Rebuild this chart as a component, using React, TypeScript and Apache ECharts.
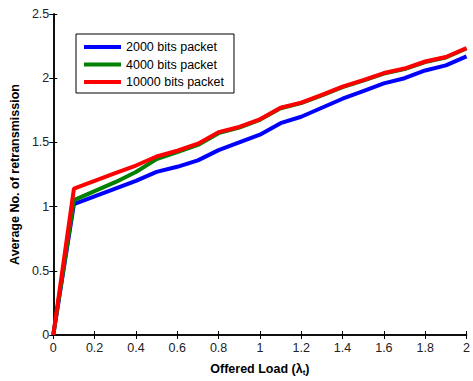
import React, { useEffect, useRef } from "react";
import * as echarts from "echarts";

const loads = [0, 0.1, 0.2, 0.3, 0.4, 0.5, 0.6, 0.7, 0.8, 0.9, 1.0, 1.1, 1.2, 1.3, 1.4, 1.5, 1.6, 1.7, 1.8, 1.9, 2.0];
const bits2000 = [0, 1.02, 1.08, 1.14, 1.2, 1.27, 1.31, 1.36, 1.44, 1.5, 1.56, 1.65, 1.7, 1.77, 1.84, 1.9, 1.96, 2.0, 2.06, 2.1, 2.17];
const bits4000 = [0, 1.05, 1.12, 1.19, 1.27, 1.37, 1.425, 1.48, 1.572, 1.616, 1.676, 1.766, 1.806, 1.866, 1.931, 1.981, 2.036, 2.071, 2.126, 2.161, 2.231];
const bits10000 = [0, 1.14, 1.2, 1.26, 1.32, 1.39, 1.435, 1.49, 1.58, 1.62, 1.68, 1.77, 1.81, 1.87, 1.935, 1.985, 2.04, 2.075, 2.13, 2.165, 2.235];
const seriesNames = ["2000 bits packet", "4000 bits packet", "10000 bits packet"];
const seriesColors = ["#0000ff", "#008000", "#ff0000"];
const xTicks = { min: 0, max: 2, interval: 0.2 };
const yTicks = { min: 0, max: 2.5, interval: 0.5 };

const FONT = "Liberation Sans, Arial, sans-serif";

export default function App() {
  const ref = useRef<HTMLDivElement>(null);
  useEffect(() => {
    if (!ref.current) return;
    document.body.style.margin = "0";
    const chart = echarts.init(ref.current, null, { renderer: "svg" });
    const datasets = [bits2000, bits4000, bits10000];
    const axisLine = { show: true, lineStyle: { color: "#000", width: 1.5 } };
    const tick = { show: true, inside: true, length: 4, lineStyle: { color: "#000", width: 1 } };
    const label = { color: "#222", fontSize: 12.5, fontFamily: FONT };
    chart.setOption({
      animation: false,
      backgroundColor: "#fff",
      grid: { left: 53, right: 2, top: 14, bottom: 38, containLabel: false },
      legend: {
        data: seriesNames,
        orient: "vertical",
        left: 76,
        top: 34,
        icon: "rect",
        itemWidth: 37,
        itemHeight: 4,
        itemGap: 3.5,
        padding: [6, 10, 4, 8],
        borderColor: "#000",
        borderWidth: 1,
        backgroundColor: "#fff",
        textStyle: { fontSize: 12.5, fontFamily: FONT, color: "#000", lineHeight: 14 },
      },
      xAxis: [
        {
          type: "value",
          min: xTicks.min,
          max: xTicks.max,
          interval: xTicks.interval,
          position: "bottom",
          axisLine,
          axisTick: tick,
          splitLine: { show: false },
          axisLabel: { ...label, margin: 6, formatter: (v: number) => String(Math.round(v * 10) / 10) },
          name: "Offered Load (λ{sub|t})",
          nameLocation: "middle",
          nameGap: 27,
          nameTextStyle: {
            fontSize: 12.5,
            fontWeight: "bold",
            fontFamily: FONT,
            color: "#000",
            rich: { sub: { fontSize: 8, fontWeight: "bold", fontFamily: FONT, verticalAlign: "bottom", padding: [6, 0, 0, 0] } },
          },
        },
        {
          type: "value",
          min: xTicks.min,
          max: xTicks.max,
          interval: xTicks.interval,
          position: "top",
          axisLine,
          axisTick: tick,
          axisLabel: { show: false },
          splitLine: { show: false },
        },
      ],
      yAxis: [
        {
          type: "value",
          min: yTicks.min,
          max: yTicks.max,
          interval: yTicks.interval,
          position: "left",
          axisLine,
          axisTick: tick,
          splitLine: { show: false },
          axisLabel: { ...label, margin: 4 },
          name: "Average No. of retransmission",
          nameLocation: "middle",
          nameGap: 28,
          nameTextStyle: { fontSize: 12.5, fontWeight: "bold", fontFamily: FONT, color: "#000" },
        },
        {
          type: "value",
          min: yTicks.min,
          max: yTicks.max,
          interval: yTicks.interval,
          position: "right",
          axisLine,
          axisTick: tick,
          axisLabel: { show: false },
          splitLine: { show: false },
        },
      ],
      series: seriesNames.map((name, i) => ({
        name,
        type: "line",
        xAxisIndex: 0,
        yAxisIndex: 0,
        data: loads.map((x, j) => [x, datasets[i][j]]),
        showSymbol: false,
        symbol: "none",
        color: seriesColors[i],
        lineStyle: { color: seriesColors[i], width: 4 },
        z: 2 + i,
      })),
    });
    return () => chart.dispose();
  }, []);
  return <div ref={ref} style={{ width: 473, height: 381 }} />;
}
